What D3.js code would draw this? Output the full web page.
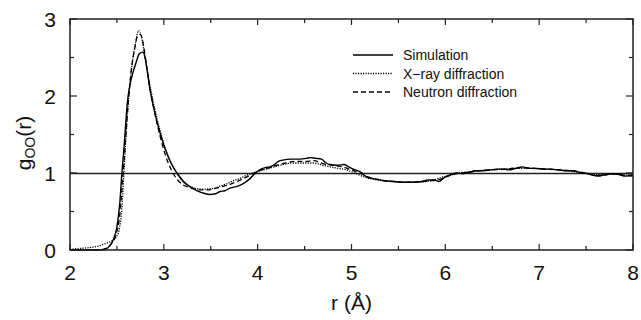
<!DOCTYPE html>
<html><head><meta charset="utf-8">
<script src="https://cdn.jsdelivr.net/npm/d3@7"></script>
<style>body{margin:0;background:#fff}svg{display:block}</style>
</head><body>
<svg id="c" width="641" height="320"></svg>
<script>
const xTicks = [2,3,4,5,6,7,8];
const yTicks = [0,1,2,3];
const seriesNames = ["Simulation","X\u2212ray diffraction","Neutron diffraction"];

const simR = [2.0,2.3,2.37,2.42,2.46,2.50,2.53,2.55,2.58,2.61,2.64,2.67,2.70,2.74,2.78,2.80,2.85,2.90,2.96,3.03,3.08,3.14,3.21,3.26,3.31,3.37,3.42,3.49,3.55,3.60,3.65,3.70,3.76,3.81,3.87,3.92,3.97,4.02,4.08,4.13,4.18,4.22,4.28,4.35,4.45,4.52,4.56,4.62,4.68,4.73,4.77,4.85,4.92,4.97,5.04,5.10,5.16,5.22,5.27,5.35,5.45,5.55,5.65,5.75,5.82,5.88,5.93,6.00,6.06,6.12,6.18,6.25,6.32,6.40,6.48,6.55,6.62,6.68,6.75,6.82,6.90,6.97,7.05,7.12,7.20,7.28,7.36,7.45,7.52,7.58,7.63,7.70,7.78,7.85,7.92,8.00];
const simG = [0,0,0.005,0.05,0.13,0.30,0.60,0.95,1.40,1.90,2.15,2.30,2.42,2.55,2.57,2.50,2.10,1.80,1.52,1.26,1.12,1.00,0.89,0.84,0.80,0.76,0.74,0.72,0.73,0.76,0.77,0.80,0.82,0.84,0.88,0.93,0.99,1.04,1.07,1.08,1.11,1.15,1.17,1.18,1.18,1.19,1.20,1.19,1.18,1.13,1.11,1.10,1.11,1.08,1.04,1.01,0.95,0.93,0.92,0.90,0.89,0.88,0.88,0.89,0.91,0.91,0.89,0.95,0.98,1.00,0.99,1.01,1.03,1.03,1.04,1.05,1.05,1.04,1.06,1.08,1.06,1.06,1.05,1.05,1.04,1.03,1.03,1.00,0.99,0.97,0.96,0.98,0.99,0.98,0.96,0.97];

const xrayR = [2.0,2.1,2.2,2.3,2.39,2.45,2.50,2.53,2.55,2.575,2.60,2.63,2.66,2.70,2.73,2.76,2.80,2.85,2.90,2.96,3.03,3.10,3.16,3.21,3.31,3.42,3.53,3.60,3.67,3.74,3.81,3.88,3.95,4.02,4.09,4.18,4.27,4.38,4.50,4.60,4.70,4.77,4.86,4.95,5.05,5.16,5.27,5.41,5.55,5.70,5.85,5.95,6.05,6.15,6.30,6.45,6.60,6.75,6.90,7.05,7.20,7.35,7.50,7.60,7.70,7.85,8.00];
const xrayG = [0.01,0.02,0.03,0.05,0.09,0.12,0.18,0.30,0.50,1.00,1.55,2.05,2.40,2.70,2.85,2.78,2.50,2.15,1.85,1.55,1.27,1.08,0.96,0.88,0.81,0.79,0.80,0.83,0.86,0.90,0.93,0.97,1.00,1.03,1.05,1.08,1.11,1.13,1.13,1.13,1.10,1.08,1.06,1.04,0.99,0.94,0.91,0.89,0.88,0.88,0.90,0.94,0.97,1.00,1.02,1.04,1.05,1.06,1.06,1.05,1.04,1.02,1.00,0.98,0.98,0.99,0.98];

const neuR = [2.0,2.3,2.38,2.44,2.49,2.53,2.56,2.59,2.62,2.65,2.69,2.72,2.75,2.78,2.82,2.86,2.90,2.96,3.02,3.08,3.14,3.20,3.28,3.38,3.46,3.55,3.64,3.72,3.80,3.90,4.00,4.10,4.20,4.30,4.40,4.50,4.60,4.70,4.80,4.90,5.00,5.10,5.20,5.30,5.45,5.60,5.75,5.85,5.95,6.05,6.15,6.25,6.35,6.50,6.65,6.80,6.95,7.10,7.25,7.40,7.50,7.60,7.68,7.78,7.90,8.00];
const neuG = [0,0,0.02,0.08,0.20,0.45,0.90,1.40,1.90,2.30,2.62,2.78,2.80,2.68,2.35,2.05,1.80,1.48,1.22,1.04,0.92,0.85,0.81,0.78,0.78,0.80,0.83,0.86,0.90,0.96,1.02,1.06,1.10,1.13,1.15,1.15,1.16,1.12,1.10,1.08,1.04,0.99,0.94,0.91,0.89,0.88,0.89,0.90,0.92,0.97,1.00,1.01,1.03,1.04,1.05,1.07,1.06,1.05,1.04,1.02,1.00,0.97,0.97,0.99,0.97,0.96];

const svg = d3.select("#c");
const L = 70, R = 633, T = 19, B = 250;
const x = d3.scaleLinear().domain([2,8]).range([L,R]);
const y = d3.scaleLinear().domain([0,3]).range([B,T]);
const font = "'Liberation Sans', Arial, sans-serif";
const axisCol = "#222";

// horizontal reference line at g=1
svg.append("line").attr("x1",L).attr("x2",R).attr("y1",y(1)+0.5).attr("y2",y(1)+0.5)
  .attr("stroke","#222").attr("stroke-width",1.3);

const line = d3.line().x(d=>x(d[0])).y(d=>y(d[1])).curve(d3.curveMonotoneX);
const mk = (rs,gs)=>rs.map((r,i)=>[r,gs[i]]);
const series = [
  {data: mk(simR,simG), dash: null, w:1.4},
  {data: mk(xrayR,xrayG), dash: "1.2,1.3", w:1.3},
  {data: mk(neuR,neuG), dash: "5,3", w:1.3}
];
series.forEach(s=>{
  svg.append("path").attr("d", line(s.data))
    .attr("fill","none").attr("stroke","#000").attr("stroke-width",s.w)
    .attr("stroke-dasharray", s.dash);
});

// frame
svg.append("rect").attr("x",L).attr("y",T).attr("width",R-L).attr("height",B-T)
  .attr("fill","none").attr("stroke",axisCol).attr("stroke-width",1.5);

// ticks
const xMinor = d3.range(2.5,8,1);
const yMinor = [0.5,1.5,2.5];
const tk = svg.append("g").attr("stroke",axisCol).attr("stroke-width",1.2);
xTicks.forEach(v=>{
  tk.append("line").attr("x1",x(v)).attr("x2",x(v)).attr("y1",B).attr("y2",B-6);
  tk.append("line").attr("x1",x(v)).attr("x2",x(v)).attr("y1",T).attr("y2",T+6);
});
xMinor.forEach(v=>{
  tk.append("line").attr("x1",x(v)).attr("x2",x(v)).attr("y1",B).attr("y2",B-4);
  tk.append("line").attr("x1",x(v)).attr("x2",x(v)).attr("y1",T).attr("y2",T+4);
});
yTicks.forEach(v=>{
  tk.append("line").attr("x1",L).attr("x2",L+7).attr("y1",y(v)).attr("y2",y(v));
  tk.append("line").attr("x1",R).attr("x2",R-7).attr("y1",y(v)).attr("y2",y(v));
});
yMinor.forEach(v=>{
  tk.append("line").attr("x1",L).attr("x2",L+4).attr("y1",y(v)).attr("y2",y(v));
  tk.append("line").attr("x1",R).attr("x2",R-4).attr("y1",y(v)).attr("y2",y(v));
});

// tick labels
svg.append("g").selectAll("text").data(xTicks).join("text")
  .attr("x",d=>x(d)).attr("y",280).attr("text-anchor","middle")
  .attr("font-family",font).attr("font-size",21).attr("fill","#111").text(d=>d);
svg.append("g").selectAll("text").data(yTicks).join("text")
  .attr("x",56).attr("y",d=>y(d)+7.5).attr("text-anchor","end")
  .attr("font-family",font).attr("font-size",21).attr("fill","#111").text(d=>d);

// axis titles
svg.append("text").attr("x",(L+R)/2).attr("y",310).attr("text-anchor","middle")
  .attr("font-family",font).attr("font-size",21).attr("fill","#111").text("r (Å)");
const yl = svg.append("text").attr("transform","translate(31,143) rotate(-90)")
  .attr("text-anchor","middle").attr("font-family",font).attr("font-size",21).attr("fill","#111");
yl.append("tspan").text("g");
yl.append("tspan").attr("font-size",14).attr("dy",4).text("OO");
yl.append("tspan").attr("dy",-4).text("(r)");

// legend
const lg = svg.append("g");
series.forEach((s,i)=>{
  const yy = 55 + i*18.5;
  lg.append("line").attr("x1",353).attr("x2",393).attr("y1",yy).attr("y2",yy)
    .attr("stroke","#000").attr("stroke-width",s.w).attr("stroke-dasharray",s.dash);
  lg.append("text").attr("x",403).attr("y",yy+5).attr("font-family",font)
    .attr("font-size",14).attr("fill","#111").text(seriesNames[i]);
});
</script>
</body></html>
